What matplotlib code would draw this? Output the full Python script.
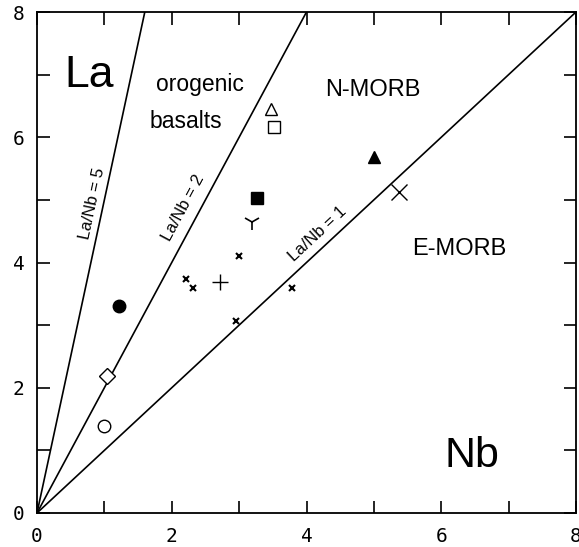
import numpy as np
import matplotlib
matplotlib.use("Agg")
import matplotlib.pyplot as plt

# reference lines (La/Nb ratios)
ratios = [5, 2, 1]
ratio_labels = ["La/Nb = 5", "La/Nb = 2", "La/Nb = 1"]
ratio_label_pos = [(0.82, 4.95), (2.17, 4.87), (4.17, 4.46)]

# data points: (Nb, La)
open_circle = ([0.99], [1.39])
open_diamond = ([1.04], [2.19])
filled_circle = ([1.22], [3.31])
small_x_nb = [2.21, 2.32, 3.00, 2.95, 3.78]
small_x_la = [3.74, 3.59, 4.11, 3.07, 3.59]
plus_pt = ([2.72], [3.69])
tri_down_pt = ([3.19], [4.65])
filled_square = ([3.26], [5.03])
open_triangle = ([3.47], [6.45])
open_square = ([3.52], [6.17])
filled_triangle = ([5.00], [5.69])
big_x = ([5.37], [5.13])

ticks_major = [0, 2, 4, 6, 8]

fig = plt.figure(figsize=(5.79, 5.47), dpi=100)
ax = fig.add_axes([37/579, 34/547, 539/579, 501/547])
ax.set_xlim(0, 8)
ax.set_ylim(0, 8)

for s in ax.spines.values():
    s.set_linewidth(1.3)

xs = np.array([0, 8])
for r in ratios:
    ax.plot(xs, r * xs, color="black", lw=1.2, clip_on=True)

fig.canvas.draw()
for (lab, r, (tx, ty)) in zip(ratio_labels, ratios, ratio_label_pos):
    p0 = ax.transData.transform((0, 0))
    p1 = ax.transData.transform((1, r))
    ang = np.degrees(np.arctan2(p1[1] - p0[1], p1[0] - p0[0]))
    ax.text(tx, ty, lab, rotation=ang, ha="center", va="center",
            rotation_mode="anchor", fontsize=12, family="Liberation Sans")

mk = dict(color="black", linestyle="none")
ax.plot(*open_circle, marker="o", ms=9, mfc="white", mec="black", mew=1.0, **mk)
ax.plot(*open_diamond, marker="D", ms=8, mfc="white", mec="black", mew=1.0, **mk)
ax.plot(*filled_circle, marker="o", ms=9, mfc="black", mec="black", **mk)
ax.plot(small_x_nb, small_x_la, marker="x", ms=5, mew=1.5, **mk)
ax.plot(*plus_pt, marker="+", ms=12, mew=1.0, **mk)
ax.plot(*tri_down_pt, marker="1", ms=12, mew=1.2, **mk)
ax.plot(*filled_square, marker="s", ms=9, mfc="black", mec="black", **mk)
ax.plot(*open_triangle, marker="^", ms=9, mfc="white", mec="black", mew=1.0, **mk)
ax.plot(*open_square, marker="s", ms=9, mfc="white", mec="black", mew=1.0, **mk)
ax.plot(*filled_triangle, marker="^", ms=9, mfc="black", mec="black", **mk)
ax.plot(*big_x, marker="x", ms=12, mew=1.0, **mk)

ax.text(0.77, 6.80, "La", fontsize=32, ha="center", va="baseline", family="Liberation Sans")
ax.text(6.46, 0.73, "Nb", fontsize=31, ha="center", va="baseline", family="Liberation Sans")
ax.text(2.42, 6.74, "orogenic", fontsize=16.5, ha="center", va="baseline", family="Liberation Sans")
ax.text(2.21, 6.15, "basalts", fontsize=16.5, ha="center", va="baseline", family="Liberation Sans")
ax.text(4.99, 6.66, "N-MORB", fontsize=17, ha="center", va="baseline", family="Liberation Sans")
ax.text(6.27, 4.12, "E-MORB", fontsize=17, ha="center", va="baseline", family="Liberation Sans")

ax.set_xticks(ticks_major)
ax.set_yticks(ticks_major)
ax.set_xticks(range(0, 9), minor=True)
ax.set_yticks(range(0, 9), minor=True)
ax.tick_params(which="both", direction="in", top=True, right=True, length=9, width=1.2)
ax.tick_params(axis="x", pad=10)
ax.tick_params(axis="y", pad=9)
for lab in ax.get_xticklabels() + ax.get_yticklabels():
    lab.set_family("DejaVu Sans Mono")
    lab.set_fontsize(14)

fig.savefig("out.png", dpi=100)
